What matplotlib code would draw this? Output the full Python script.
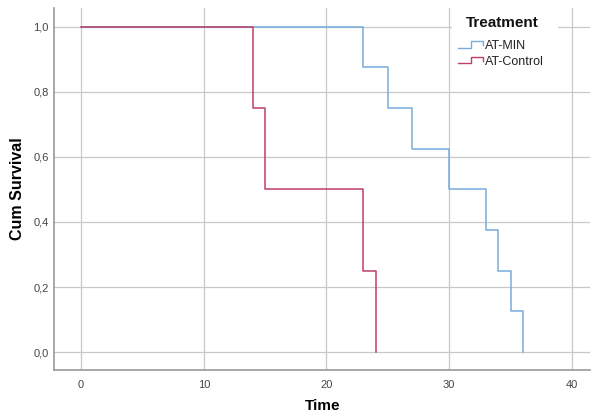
#!/usr/bin/env python3

import matplotlib
matplotlib.use("Agg")
import matplotlib.pyplot as plt
from matplotlib.legend_handler import HandlerBase
from matplotlib.lines import Line2D
from matplotlib.patches import Rectangle
from matplotlib.ticker import FuncFormatter


# survival times and cumulative survival for each group
min_time = [0, 23, 25, 27, 30, 33, 34, 35, 36]
min_surv = [1.0, 0.875, 0.75, 0.625, 0.5, 0.375, 0.25, 0.125, 0.0]

ctrl_time = [0, 14, 15, 23, 24]
ctrl_surv = [1.0, 0.75, 0.5, 0.25, 0.0]

x_ticks = [0, 10, 20, 30, 40]
y_ticks = [0.0, 0.2, 0.4, 0.6, 0.8, 1.0]

MIN_COLOR = "#78acdc"
CTRL_COLOR = "#bd3f68"

W, H = 595, 419


class StepHandler(HandlerBase):
    # little step glyph for the legend entries
    def create_artists(self, legend, orig_handle, xdescent, ydescent,
                       width, height, fontsize, trans):
        w, h = width, height
        x0 = -xdescent
        xs = [x0, x0 + 0.5 * w, x0 + 0.5 * w, x0 + w, x0 + w]
        ys = [0.15 * h, 0.15 * h, 0.9 * h, 0.9 * h, 0.45 * h]
        line = Line2D(xs, ys, color=orig_handle.get_color(), lw=1.0,
                      transform=trans)
        return [line]


def main():
    plt.rcParams["font.family"] = ["Liberation Sans", "DejaVu Sans"]

    fig = plt.figure(figsize=(W / 100, H / 100), dpi=100)
    ax = fig.add_axes([0.091, 0.117, 0.901, 0.864])

    ax.step(min_time, min_surv, where="post", color=MIN_COLOR, lw=1.1,
            label="AT-MIN", zorder=3)
    ax.step(ctrl_time, ctrl_surv, where="post", color=CTRL_COLOR, lw=1.1,
            label="AT-Control", zorder=3)

    ax.set_xlim(-2.2, 41.5)
    ax.set_ylim(-0.055, 1.058)
    ax.set_xticks(x_ticks)
    ax.set_yticks(y_ticks)
    ax.yaxis.set_major_formatter(FuncFormatter(lambda v, p: f"{v:.1f}".replace(".", ",")))
    ax.tick_params(length=0, labelsize=8, colors="#444444")
    ax.tick_params(axis="x", pad=7)
    ax.tick_params(axis="y", pad=4)

    ax.grid(True, color="#c8c8c8", lw=0.9)
    ax.set_axisbelow(True)
    for s in ["top", "right"]:
        ax.spines[s].set_visible(False)
    for s in ["left", "bottom"]:
        ax.spines[s].set_color("#999999")
        ax.spines[s].set_linewidth(1.2)

    ax.set_xlabel("Time", fontsize=11, fontweight="bold", labelpad=7)
    ax.set_ylabel("Cum Survival", fontsize=11.5, fontweight="bold", labelpad=6)

    # white block behind the legend title, gridline stays hidden there
    fig.patches.append(Rectangle((452 / W, 1 - 34 / H), 106 / W, 18 / H,
                                 transform=fig.transFigure, facecolor="white",
                                 edgecolor="none", zorder=1))
    fig.text(466 / W, 1 - 23 / H, "Treatment", fontsize=11, fontweight="bold",
             va="center", ha="left", color="#111111", zorder=2)

    leg = fig.legend(*ax.get_legend_handles_labels(), loc="upper left",
                     bbox_to_anchor=(458 / W, 1 - 40 / H), frameon=False,
                     fontsize=9, handler_map={Line2D: StepHandler()},
                     handlelength=2.0, handletextpad=0.15, labelspacing=0.3,
                     borderpad=0, borderaxespad=0)
    for t in leg.get_texts():
        t.set_color("#222222")

    fig.savefig("out.png", dpi=100)


if __name__ == "__main__":
    main()
